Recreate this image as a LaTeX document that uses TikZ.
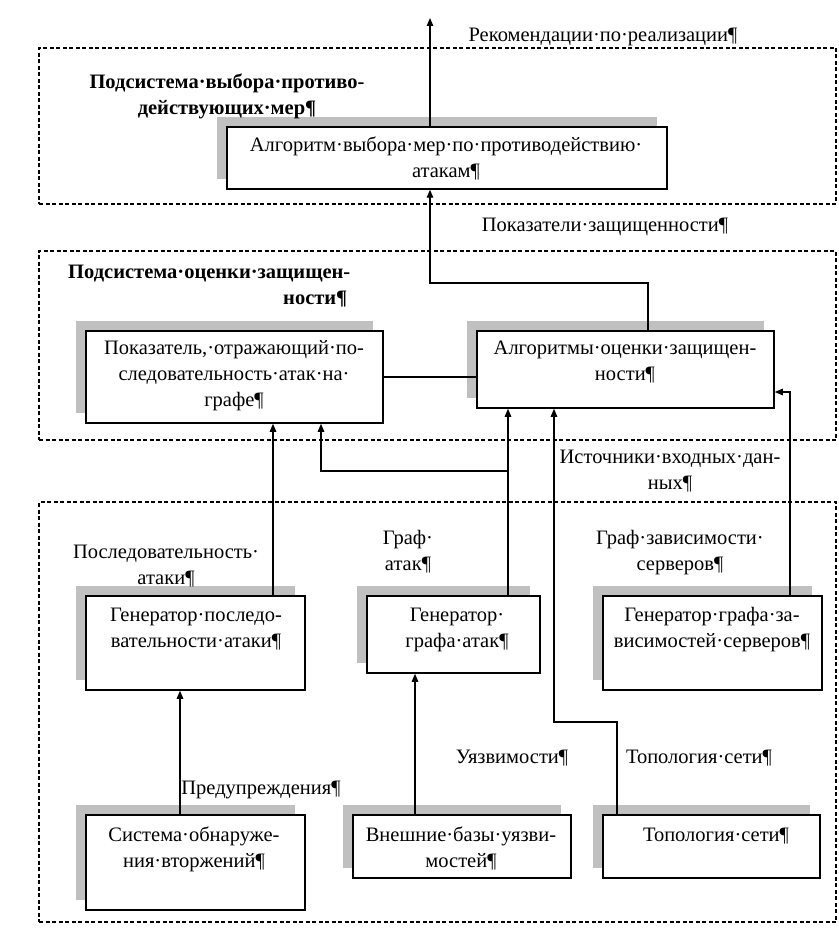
\documentclass[tikz,border=0pt]{standalone}
\usepackage{fontspec}
\setmainfont{Liberation Serif}
\usetikzlibrary{arrows.meta,fit}
\definecolor{shadowc}{RGB}{192,192,192}
\newcommand\fs{\fontsize{20.5}{26}\selectfont}
\newcommand\fl{\rule{0pt}{18pt}}
\begin{document}
\begin{tikzpicture}[x=1pt,y=-1pt,
  dsh/.style={draw, line width=1.1pt, dash pattern=on 4pt off 2.5pt, inner sep=0pt},
  boxst/.style={draw, line width=1.5pt, fill=white, inner sep=0pt},
  shad/.style={fill=shadowc, draw=none},
  ln/.style={line width=1.2pt},
  arr/.style={line width=1.2pt, -{Triangle[length=8pt,width=6.5pt]}},
  txt/.style={font=\fs, align=center, inner sep=0pt, anchor=north, yshift=-2pt},
  txtl/.style={font=\fs, align=left, inner sep=0pt, anchor=north west, yshift=-2pt}]
\useasboundingbox (0,0) rectangle (838,949);
\fill[white] (0,0) rectangle (838,949);

% dashed subsystem frames
\node[dsh, fit={(39,48) (836,204)}] (D1) {};
\node[dsh, fit={(39,251) (836,440)}] (D2) {};
\node[dsh, fit={(39,502) (836,922)}] (D3) {};

% shadows
\fill[shad] (217,117) rectangle (657,179);
\fill[shad] (76,321) rectangle (373,413);
\fill[shad] (467,321) rectangle (764,398);
\fill[shad] (76,586) rectangle (295,680);
\fill[shad] (357,586) rectangle (530,663);
\fill[shad] (593,586) rectangle (812,680);
\fill[shad] (76,805) rectangle (295,900);
\fill[shad] (343,805) rectangle (561,868);
\fill[shad] (593,805) rectangle (810,868);

% boxes
\node[boxst, fit={(227,127) (667,189)}] (T) {};
\node[boxst, fit={(86,331) (383,423)}] (A) {};
\node[boxst, fit={(477,331) (774,408)}] (B) {};
\node[boxst, fit={(86,596) (305,690)}] (G1) {};
\node[boxst, fit={(367,596) (540,673)}] (G2) {};
\node[boxst, fit={(603,596) (822,690)}] (G3) {};
\node[boxst, fit={(86,815) (305,910)}] (S1) {};
\node[boxst, fit={(353,815) (571,878)}] (S2) {};
\node[boxst, fit={(603,815) (820,878)}] (S3) {};

% connector coordinates
\coordinate (o1) at (430,18);
\coordinate (j1) at (648,283);
\coordinate (ga) at (273,0);
\coordinate (ab) at (321,0);
\coordinate (gb) at (508,471);
\coordinate (k1) at (617,722);
\coordinate (k2) at (554,722);
\coordinate (r1) at (790,392);
\coordinate (s1x) at (180,0);
\coordinate (s2x) at (415,0);

% connectors
\draw[arr] (T.north -| o1) -- (o1);
\draw[arr] (B.north -| j1) -- (j1) -| (T.south -| o1);
\draw[ln] (A.east) -- (A.east -| B.west);
\draw[arr] (G1.north -| ga) -- (A.south -| ga);
\draw[arr] (G2.north -| gb) -- (B.south -| gb);
\draw[arr] (gb) -| (A.south -| ab);
\draw[arr] (S3.north -| k1) -- (k1) -- (k2) -- (B.south -| k2);
\draw[arr] (G3.north -| r1) -- (r1) -- (B.east |- r1);
\draw[arr] (S1.north -| s1x) -- (G1.south -| s1x);
\draw[arr] (S2.north -| s2x) -- (G2.south -| s2x);

% texts
\node[txt] (rec) at (603,21.6) {\fl Рекомендации·по·реализации¶};
\node[txt, font=\fs\bfseries] (title1) at (227,68.6) {\fl Подсистема·выбора·противо-\\действующих·мер¶};
\node[txt] (Tt) at (446,131.6) {\fl Алгоритм·выбора·мер·по·противодействию·\\атакам¶};
\node[txt] (pok) at (605,211.6) {\fl Показатели·защищенности¶};
\node[txtl, font=\fs\bfseries] (title2) at (68,258.6) {\fl Подсистема·оценки·защищен-\\\hspace*{215pt}ности¶};
\node[txt] (At) at (234,334.6) {\fl Показатель,·отражающий·по-\\следовательность·атак·на·\\графе¶};
\node[txt] (Bt) at (625,334.6) {\fl Алгоритмы·оценки·защищен-\\ности¶};
\node[txt] (ist) at (670,443.6) {\fl Источники·входных·дан-\\ных¶};
\node[txt] (posl) at (166,538.6) {\fl Последовательность·\\атаки¶};
\node[txt] (graf) at (408,524.6) {\fl Граф·\\атак¶};
\node[txt] (grafz) at (680,524.6) {\fl Граф·зависимости·\\серверов¶};
\node[txt] (G1t) at (196,601.6) {\fl Генератор·последо-\\вательности·атаки¶};
\node[txt] (G2t) at (457,601.6) {\fl Генератор·\\графа·атак¶};
\node[txt] (G3t) at (712,601.6) {\fl Генератор·графа·за-\\висимостей·серверов¶};
\node[txt] (uyaz) at (512,743.6) {\fl Уязвимости¶};
\node[txt] (topl) at (699,743.6) {\fl Топология·сети¶};
\node[txt] (pred) at (261,774.6) {\fl Предупреждения¶};
\node[txt] (S1t) at (194,821.6) {\fl Система·обнаруже-\\ния·вторжений¶};
\node[txt] (S2t) at (461,821.6) {\fl Внешние·базы·уязви-\\мостей¶};
\node[txt] (S3t) at (716,821.6) {\fl Топология·сети¶};
\end{tikzpicture}
\end{document}
